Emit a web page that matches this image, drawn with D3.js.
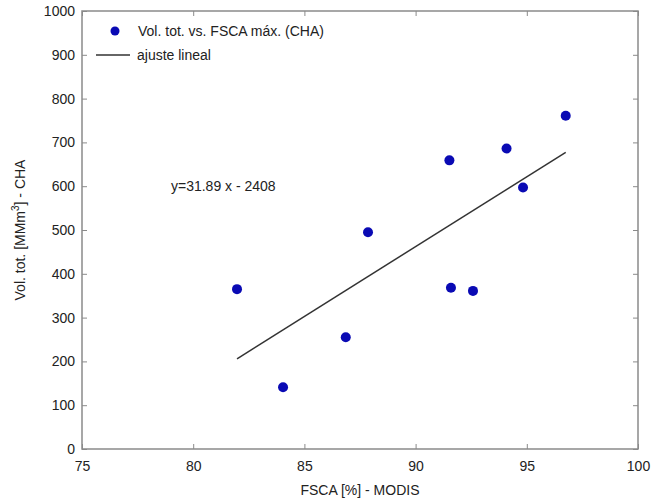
<!DOCTYPE html>
<html>
<head>
<meta charset="utf-8">
<script src="https://cdn.jsdelivr.net/npm/d3@7"></script>
<style>
  body { margin: 0; background: #fff; }
  svg { font-family: "Liberation Sans", Arial, sans-serif; }
</style>
</head>
<body>
<div id="chart"></div>
<script>
// FSCA max (%) vs total volume (MMm3)
const fsca = [81.97, 84.04, 86.86, 87.86, 91.52, 91.59, 92.58, 94.09, 94.83, 96.75];
const volume = [365, 141, 255, 495, 659, 368, 361, 686, 597, 761];
const fitSlope = 31.89;
const fitIntercept = -2408;
const xTicks = [75, 80, 85, 90, 95, 100];
const yTicks = [0, 100, 200, 300, 400, 500, 600, 700, 800, 900, 1000];

const width = 655, height = 503;
const margin = {top: 11, right: 17, bottom: 54, left: 82};
const innerW = width - margin.left - margin.right;
const innerH = height - margin.top - margin.bottom;

const axisColor = "#8a8a8a";
const textColor = "#222";
const dotColor = "#0a0ab4";

const svg = d3.select("#chart").append("svg")
    .attr("width", width)
    .attr("height", height);

const g = svg.append("g").attr("transform", `translate(${margin.left},${margin.top})`);

const x = d3.scaleLinear().domain([75, 100]).range([0, innerW]);
const y = d3.scaleLinear().domain([0, 1000]).range([innerH, 0]);

// frame
g.append("rect")
    .attr("width", innerW).attr("height", innerH)
    .attr("fill", "none").attr("stroke", axisColor).attr("stroke-width", 1.5);

// axes (ticks pointing inward, mirrored on top/right)
function styleAxis(sel) {
    sel.select(".domain").remove();
    sel.selectAll("line").attr("stroke", axisColor);
    sel.selectAll("text").attr("fill", textColor).style("font-size", "14px");
}
g.append("g").attr("transform", `translate(0,${innerH})`)
    .call(d3.axisBottom(x).tickValues(xTicks).tickSize(-5).tickPadding(12).tickFormat(d3.format("d")))
    .call(styleAxis);
g.append("g")
    .call(d3.axisTop(x).tickValues(xTicks).tickSize(-5).tickFormat(""))
    .call(styleAxis);
g.append("g")
    .call(d3.axisLeft(y).tickValues(yTicks).tickSize(-5).tickPadding(7).tickFormat(d3.format("d")))
    .call(styleAxis);
g.append("g").attr("transform", `translate(${innerW},0)`)
    .call(d3.axisRight(y).tickValues(yTicks).tickSize(-5).tickFormat(""))
    .call(styleAxis);

// fitted line
const xMin = d3.min(fsca), xMax = d3.max(fsca);
g.append("line")
    .attr("x1", x(xMin)).attr("y1", y(fitSlope * xMin + fitIntercept))
    .attr("x2", x(xMax)).attr("y2", y(fitSlope * xMax + fitIntercept))
    .attr("stroke", "#333").attr("stroke-width", 1.5);

// points
g.selectAll("circle.pt").data(fsca)
    .join("circle")
    .attr("class", "pt")
    .attr("cx", d => x(d))
    .attr("cy", (d, i) => y(volume[i]))
    .attr("r", 5)
    .attr("fill", dotColor);

// equation
g.append("text")
    .attr("x", x(79.0)).attr("y", y(600) + 5)
    .attr("fill", textColor).style("font-size", "14px")
    .text(`y=${fitSlope} x - ${-fitIntercept}`);

// legend
const leg = g.append("g");
leg.append("circle").attr("cx", 33).attr("cy", 20).attr("r", 4.5).attr("fill", dotColor);
leg.append("text").attr("x", 56).attr("y", 25).attr("fill", textColor).style("font-size", "14px")
    .text("Vol. tot. vs. FSCA máx. (CHA)");
leg.append("line").attr("x1", 14).attr("x2", 48).attr("y1", 44).attr("y2", 44)
    .attr("stroke", "#333").attr("stroke-width", 1.5);
leg.append("text").attr("x", 55).attr("y", 49).attr("fill", textColor).style("font-size", "14px")
    .text("ajuste lineal");

// axis labels
svg.append("text")
    .attr("x", margin.left + innerW / 2).attr("y", 495)
    .attr("text-anchor", "middle").attr("fill", textColor).style("font-size", "14px")
    .text("FSCA [%] - MODIS");

const yl = svg.append("text")
    .attr("transform", `translate(25,${margin.top + innerH / 2}) rotate(-90)`)
    .attr("text-anchor", "middle").attr("fill", textColor).style("font-size", "14px");
yl.append("tspan").text("Vol. tot. [MMm");
yl.append("tspan").attr("dy", -6).style("font-size", "10px").text("3");
yl.append("tspan").attr("dy", 6).text("] - CHA");
</script>
</body>
</html>
